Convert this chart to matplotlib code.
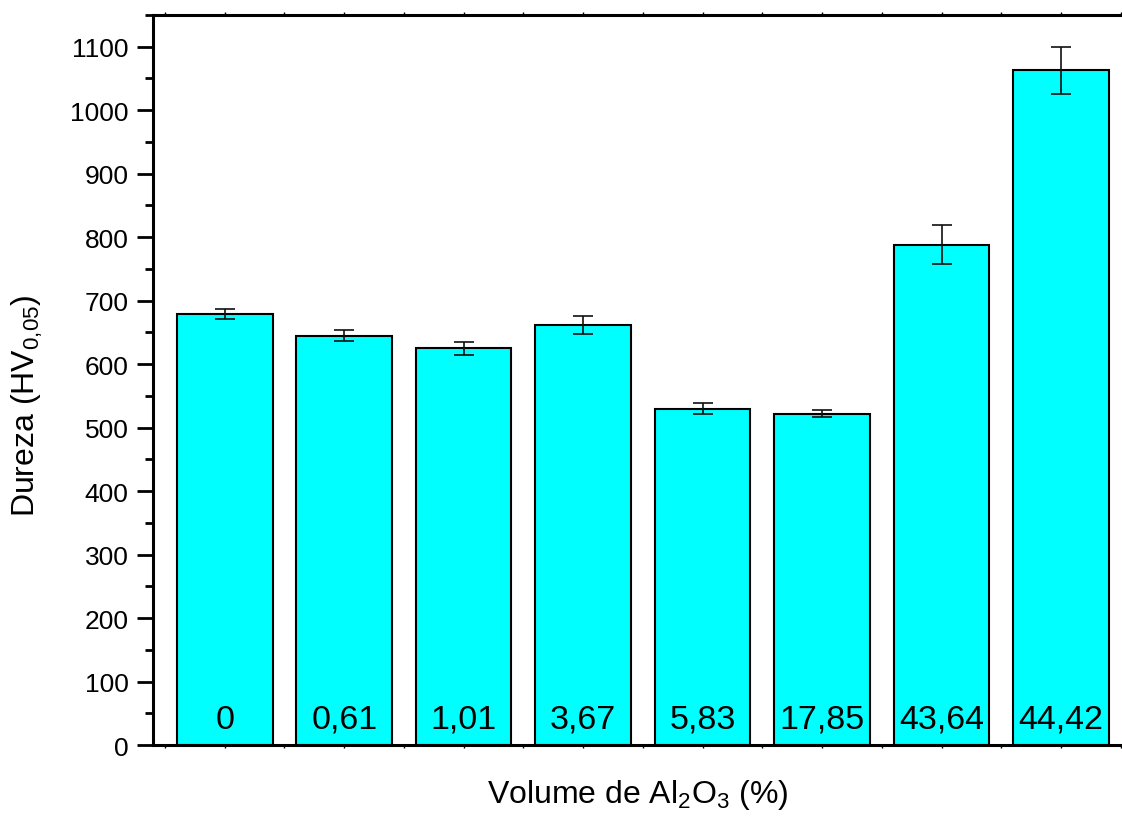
import matplotlib
matplotlib.use('Agg')
import matplotlib.pyplot as plt
import numpy as np

plt.rcParams['font.family'] = ['Liberation Sans', 'DejaVu Sans']
plt.rcParams['mathtext.fontset'] = 'custom'
plt.rcParams['mathtext.rm'] = 'Liberation Sans'

# Dureza por teor de Al2O3
labels = ['0', '0,61', '1,01', '3,67', '5,83', '17,85', '43,64', '44,42']
dureza = [679, 645, 625, 662, 530, 522, 788, 1063]
erro = [8, 8, 10, 14, 9, 6, 31, 37]

pos = np.arange(1, len(labels) + 1)

fig = plt.figure(figsize=(11.22, 8.2), dpi=100)
ax = fig.add_axes([0.1364, 0.0902, 0.8636, 0.8903])

ax.bar(pos, dureza, width=0.8, color='#00FFFF', edgecolor='black', linewidth=1.5,
       yerr=erro, capsize=7, error_kw={'elinewidth': 1.2, 'capthick': 1.2, 'ecolor': '#111111'})

for x, lab in zip(pos, labels):
    ax.text(x, 16, lab, ha='center', va='bottom', fontsize=24.5)

ax.set_xlim(0.4, 8.51)
ax.set_ylim(0, 1150)
ax.set_yticks(np.arange(0, 1101, 100))
ax.set_yticks(np.arange(50, 1151, 100), minor=True)
ax.set_xticks(np.arange(0.5, 8.6, 0.5))
ax.set_xticklabels([])

ax.tick_params(axis='y', which='major', direction='out', length=11.5, width=2, labelsize=19, pad=6)
ax.tick_params(axis='y', which='minor', direction='out', length=6, width=2)
ax.tick_params(axis='x', which='major', direction='out', length=2, width=1, top=True)

for side in ['left', 'bottom', 'top']:
    ax.spines[side].set_linewidth(2.2)
ax.spines['right'].set_visible(False)

ax.set_ylabel(r'Dureza (HV$_{0{,}05}$)', fontsize=23)
ax.yaxis.set_label_coords(-0.112, 0.466)
ax.set_xlabel(r'Volume de Al$_2$O$_3$ (%)', fontsize=23)
ax.xaxis.set_label_coords(0.5, -0.044)

fig.savefig('out.png', dpi=100)
